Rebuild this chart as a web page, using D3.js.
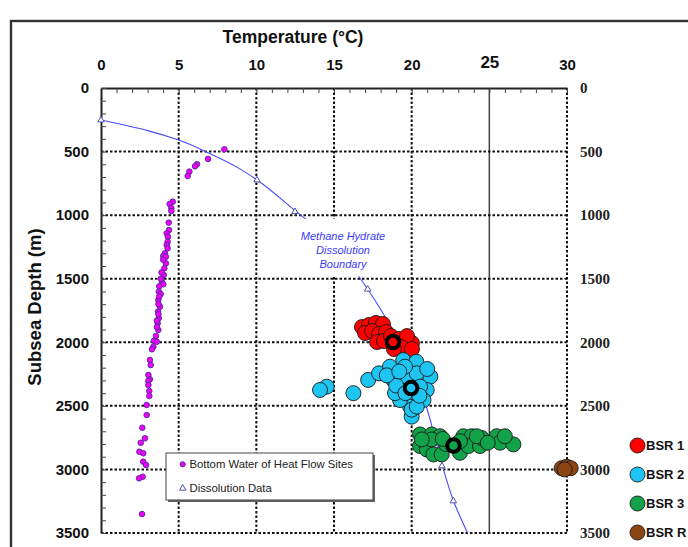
<!DOCTYPE html>
<html><head><meta charset="utf-8">
<script src="https://cdn.jsdelivr.net/npm/d3@7"></script>
<style>
body{margin:0;background:#fff;}
svg{display:block;}
</style></head>
<body>
<svg id="chart" width="688" height="547"></svg>
<script>
// ---- data ----
const tempTicks = [0,5,10,15,20,25,30];
const depthTicks = [0,500,1000,1500,2000,2500,3000,3500];

const bottomWaterT = [7.94,6.89,6.18,6.05,5.69,5.58,4.62,4.42,4.53,4.53,4.36,4.38,4.23,4.31,4.29,4.23,4.29,4.12,4.01,4.18,4.18,4.08,4.04,3.93,4.01,3.72,3.84,3.69,3.80,3.67,3.72,3.65,3.69,3.54,3.41,3.59,3.37,3.28,3.15,3.20,3.05,3.15,3.05,3.05,3.11,3.11,2.94,2.94,2.66,2.83,2.56,2.47,2.72,2.72,2.90,2.68,2.45,2.64,4.00,3.90,3.85,3.75,3.75,3.70,3.70,3.60,3.60];
const bottomWaterD = [482,558,600,616,658,692,894,912,944,967,1059,1117,1143,1170,1209,1235,1261,1300,1321,1327,1379,1418,1471,1528,1544,1602,1620,1667,1720,1759,1811,1851,1903,1950,1988,1995,2035,2055,2139,2179,2257,2291,2302,2336,2383,2423,2493,2572,2672,2755,2790,2861,2873,2939,2965,3057,3070,3351,1350,1450,1500,1560,1640,1700,1780,1830,1880];

const dissT = [0,10.04,12.49,17.17,21.95,22.68];
const dissD = [252,724,973,1583,2973,3248];

const boundaryT = [0,3,5,7,9,10,12.5,14,16.35,17.17,18,19,20,20.8,21.5,22,22.7,23.6];
const boundaryD = [252,335,409,515,640,720,965,1115,1439,1583,1740,1950,2200,2450,2750,2980,3250,3500];

const bsr1T = [16.80,17.25,17.70,18.15,17.00,17.45,17.90,18.35,17.77,18.22,18.67,19.18,19.57,20.02,19.70,19.31,18.86,20.02];
const bsr1D = [1880,1864,1848,1856,1927,1911,1935,1919,1998,1990,1951,1974,2006,2006,1951,2037,2053,2053];
const bsr2T = [16.25,17.2,17.9,18.6,19.46,20.3,21.2,20.97,20.76,20.0,19.9,19.25,18.93,18.82,19.68,20.33,20.54,19.57,14.53,14.1,20.0,20.33,19.0,19.6,20.5,18.4,21.0,19.2];
const bsr2D = [2400,2296,2244,2192,2140,2153,2270,2375,2454,2585,2506,2454,2400,2296,2270,2244,2349,2192,2349,2375,2530,2506,2340,2400,2420,2260,2210,2230];
const bsr3T = [20.54,21.29,21.83,20.54,20.97,21.29,21.4,21.93,23.11,23.33,23.86,23.65,24.4,24.5,24.19,25.47,25.69,26.55,26.0,23.11,20.65,22.2,24.9,22.0];
const bsr3D = [2725,2725,2739,2816,2843,2764,2882,2882,2869,2739,2739,2816,2816,2752,2739,2739,2790,2803,2739,2778,2764,2800,2790,2760];
const bsrRT = [29.66,29.98,30.24,29.85];
const bsrRD = [2990,2978,2990,3000];

const meanNames = ["BSR 1","BSR 2","BSR 3"];
const meanT = [18.80,19.96,22.69];
const meanD = [1998,2360,2812];

const bsrNames = ["BSR 1","BSR 2","BSR 3","BSR R"];
const bsrColors = ["#ff0000","#1ec5f2","#11a24a","#8a4512"];

// ---- chart ----
const svg = d3.select("#chart");
const x = d3.scaleLinear().domain([0,30]).range([101,567]);
const y = d3.scaleLinear().domain([0,3500]).range([88,533]);
const sans = "'Liberation Sans', Arial, sans-serif";

// outer frame
svg.append("rect").attr("x",11).attr("y",21).attr("width",700).attr("height",600)
  .attr("fill","none").attr("stroke","#333").attr("stroke-width",2.4);

// grid
const grid = svg.append("g");
[5,10,15,20,30].forEach(t=>{
  grid.append("line").attr("x1",x(t)).attr("x2",x(t)).attr("y1",y(0)).attr("y2",y(3500))
    .attr("stroke","#111").attr("stroke-width",2).attr("stroke-dasharray","2.5,2");
});
grid.append("line").attr("x1",x(25)).attr("x2",x(25)).attr("y1",y(0)).attr("y2",y(3500))
  .attr("stroke","#444").attr("stroke-width",1.5);
[500,1000,1500,2000,2500,3000,3500].forEach(d=>{
  grid.append("line").attr("x1",x(0)).attr("x2",x(30)).attr("y1",y(d)).attr("y2",y(d))
    .attr("stroke","#111").attr("stroke-width",2).attr("stroke-dasharray","2.5,2");
});

// axes lines + minor ticks
const topMinor = svg.append("g").attr("transform",`translate(0,${y(0)})`)
  .call(d3.axisTop(x).tickValues(d3.range(0,31,1)).tickSize(-5).tickFormat("").tickSizeOuter(0));
topMinor.select(".domain").attr("stroke","#222").attr("stroke-width",2);
topMinor.selectAll(".tick line").attr("stroke","#444").attr("stroke-width",1);

const leftMinor = svg.append("g").attr("transform",`translate(${x(0)},0)`)
  .call(d3.axisLeft(y).tickValues(d3.range(0,3501,100)).tickSize(-5).tickFormat("").tickSizeOuter(0));
leftMinor.select(".domain").attr("stroke","#222").attr("stroke-width",2);
leftMinor.selectAll(".tick line").attr("stroke","#444").attr("stroke-width",1);

// tick labels
const topLab = svg.append("g").attr("transform",`translate(0,${y(0)})`)
  .call(d3.axisTop(x).tickValues(tempTicks).tickSize(0).tickPadding(18).tickFormat(d3.format("d")));
topLab.select(".domain").remove();
topLab.selectAll("text").attr("font-family",sans).attr("font-weight","bold").attr("font-size",15).attr("fill","#111");
topLab.selectAll(".tick").filter(d=>d===25).select("text").attr("font-size",17).attr("dy","-0.1em");

const leftLab = svg.append("g").attr("transform",`translate(${x(0)},0)`)
  .call(d3.axisLeft(y).tickValues(depthTicks).tickSize(0).tickPadding(12).tickFormat(d3.format("d")));
leftLab.select(".domain").remove();
leftLab.selectAll("text").attr("font-family",sans).attr("font-weight","bold").attr("font-size",15).attr("fill","#111");

const rightLab = svg.append("g").attr("transform",`translate(${x(30)},0)`)
  .call(d3.axisRight(y).tickValues(depthTicks).tickSize(0).tickPadding(13).tickFormat(d3.format("d")));
rightLab.select(".domain").remove();
rightLab.selectAll("text").attr("font-family","'Liberation Serif', 'Times New Roman', serif")
  .attr("font-weight","bold").attr("font-size",15).attr("fill","#222");

// titles
svg.append("text").attr("x",293).attr("y",43).attr("text-anchor","middle")
  .attr("font-family",sans).attr("font-weight","bold").attr("font-size",17.5).attr("fill","#111")
  .text("Temperature (°C)");
svg.append("text").attr("transform","translate(41,307) rotate(-90)").attr("text-anchor","middle")
  .attr("font-family",sans).attr("font-weight","bold").attr("font-size",18.5).attr("fill","#111")
  .text("Subsea Depth (m)");

// boundary curve
const line = d3.line().x(d=>x(d[0])).y(d=>y(d[1])).curve(d3.curveMonotoneY);
svg.append("path").datum(boundaryT.map((t,i)=>[t,boundaryD[i]]))
  .attr("d",line).attr("fill","none").attr("stroke","#4a4aff").attr("stroke-width",1.1);

// label on curve
svg.append("rect").attr("x",x(12.9)).attr("y",y(1030)).attr("width",x(18.5)-x(12.9)).attr("height",y(1480)-y(1030))
  .attr("fill","#fff");
const lab = svg.append("text").attr("text-anchor","middle").attr("font-family",sans)
  .attr("font-style","italic").attr("font-size",11).attr("fill","#3a3aff");
[["Methane Hydrate",236],["Dissolution",250.5],["Boundary",264.5]].forEach(([s,py])=>{
  lab.append("tspan").attr("x",343).attr("y",py).attr("dy","0.35em").text(s);
});

// dissolution triangles
const tri = d3.symbol().type(d3.symbolTriangle).size(18);
svg.append("g").selectAll("path").data(dissT.map((t,i)=>[t,dissD[i]])).join("path")
  .attr("d",tri).attr("transform",d=>`translate(${x(d[0])},${y(d[1])})`)
  .attr("fill","#fff").attr("stroke","#5050b0").attr("stroke-width",1);

// bottom water points
svg.append("g").selectAll("circle").data(bottomWaterT.map((t,i)=>[t,bottomWaterD[i]])).join("circle")
  .attr("cx",d=>x(d[0])).attr("cy",d=>y(d[1])).attr("r",2.8)
  .attr("fill","#f500f5").attr("stroke","#4a2aa0").attr("stroke-width",0.9);

// BSR clusters
const clusters = [[bsr1T,bsr1D],[bsr2T,bsr2D],[bsr3T,bsr3D],[bsrRT,bsrRD]];
clusters.forEach(([ts,ds],k)=>{
  svg.append("g").selectAll("circle").data(ts.map((t,i)=>[t,ds[i]])).join("circle")
    .attr("cx",d=>x(d[0])).attr("cy",d=>y(d[1])).attr("r",7.5)
    .attr("fill",bsrColors[k]).attr("stroke","#1a1a1a").attr("stroke-width",0.9);
});
// means
svg.append("g").selectAll("circle").data(meanT.map((t,i)=>[t,meanD[i],i])).join("circle")
  .attr("cx",d=>x(d[0])).attr("cy",d=>y(d[1])).attr("r",6.3)
  .attr("fill",d=>bsrColors[d[2]]).attr("stroke","#000").attr("stroke-width",4);

// BSR legend
const bl = svg.append("g");
bsrNames.forEach((n,i)=>{
  const cy = 445.5 + i*29;
  bl.append("circle").attr("cx",637.5).attr("cy",cy).attr("r",7.5)
    .attr("fill",bsrColors[i]).attr("stroke","#1a1a1a").attr("stroke-width",0.9);
  bl.append("text").attr("x",646).attr("y",cy).attr("dy","0.36em")
    .attr("font-family",sans).attr("font-weight","bold").attr("font-size",13).attr("fill","#111").text(n);
});

// bottom legend
const lg = svg.append("g");
lg.append("rect").attr("x",168).attr("y",455).attr("width",207).attr("height",47).attr("fill","#666");
lg.append("rect").attr("x",166).attr("y",453).attr("width",207).attr("height",47)
  .attr("fill","#fff").attr("stroke","#444").attr("stroke-width",1);
lg.append("circle").attr("cx",182.7).attr("cy",464.3).attr("r",2.6)
  .attr("fill","#f500f5").attr("stroke","#4a2aa0").attr("stroke-width",0.9);
lg.append("text").attr("x",189.5).attr("y",464.3).attr("dy","0.35em").attr("font-family",sans)
  .attr("font-size",11.3).attr("fill","#222").text("Bottom Water of Heat Flow Sites");
lg.append("path").attr("d",d3.symbol().type(d3.symbolTriangle).size(18)())
  .attr("transform","translate(182.7,488.3)").attr("fill","#fff").attr("stroke","#5050b0").attr("stroke-width",1);
lg.append("text").attr("x",189.5).attr("y",488.3).attr("dy","0.35em").attr("font-family",sans)
  .attr("font-size",11.3).attr("fill","#222").text("Dissolution Data");
</script>
</body></html>
